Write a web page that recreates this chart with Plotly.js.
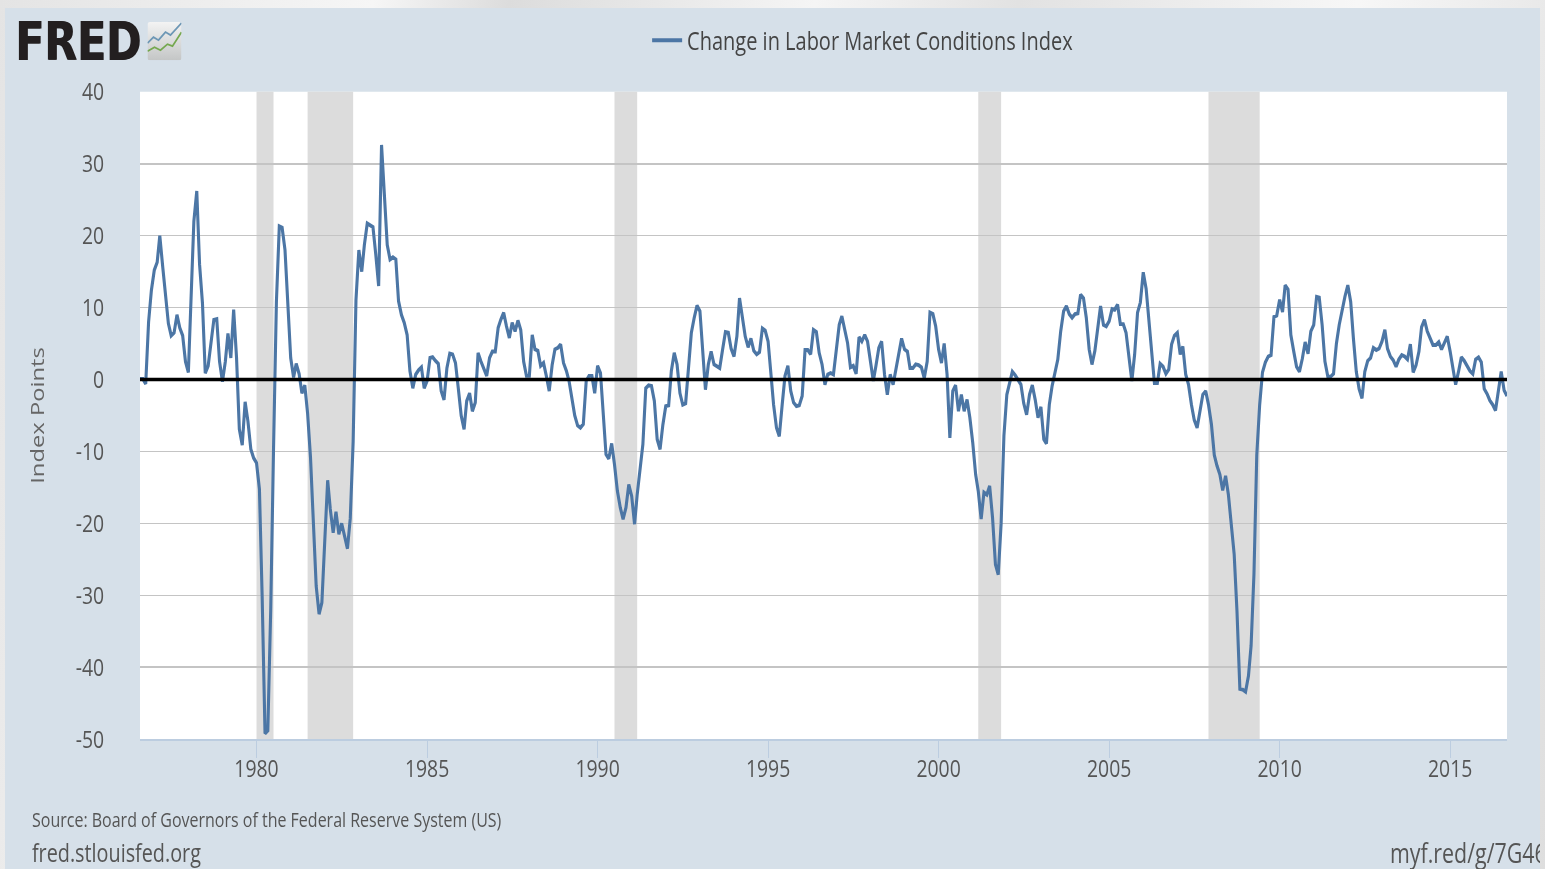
<!DOCTYPE html>
<html>
<head>
<meta charset="utf-8">
<script src="https://cdn.plot.ly/plotly-3.0.1.min.js"></script>
<style>
html,body{margin:0;padding:0;width:1545px;height:869px;overflow:hidden;
background:linear-gradient(100deg,#e4e4e4 0%,#f6f6f6 22%,#dcdcdc 30%,#f5f5f5 48%,#e2e2e2 60%,#f7f7f7 80%,#dedede 100%);}
#chart{position:absolute;left:5px;top:8px;width:1535px;height:688.8px;
transform-origin:0 0;transform:scaleY(1.25);filter:blur(0.45px);}
</style>
</head>
<body>
<div id="chart"></div>
<script>
const seriesName = "Change in Labor Market Conditions Index";
const startYear = 1976, startMonth = 8; // first monthly observation
const values = [
0.1,0.1,-0.6,8,12.4,15.2,16.3,20,15.7,11.3,7.8,6.1,
6.5,9,7.2,6.1,2.5,1,12.4,22,26.2,16,10.6,0.9,
1.9,5.2,8.3,8.4,2.5,-0.3,2.5,6.4,3,9.7,3,-6.9,
-9.1,-3.1,-5.8,-9.7,-10.9,-11.6,-15.2,-30,-49.2,-48.8,-32,-9.7,
10.8,21.3,21.1,18,10.8,3,0.3,2.2,0.8,-1.9,-0.8,-4.7,
-10.8,-20.7,-28.7,-32.6,-31,-22.4,-14,-18,-21.3,-18.4,-21.5,-20,
-21.8,-23.5,-19.3,-8.6,11,18,15,18.7,21.7,21.5,21.2,17.4,
13,32.6,26,18.7,16.7,17,16.7,10.9,9,7.9,6.2,1.2,
-1.2,0.7,1.3,1.7,-1.2,-0.2,3,3.1,2.6,2.2,-1.6,-2.8,
1.6,3.6,3.5,2.3,-1.2,-5,-6.9,-3,-1.9,-4.4,-3.2,3.7,
2.5,1.4,0.5,3,3.9,3.9,7.2,8.3,9.3,7.4,5.8,7.9,
6.7,8.2,6.9,2.5,0.5,0.5,6.2,4.2,4,1.9,2.3,0.5,
-1.6,2,4.2,4.4,4.9,2.3,1.2,-0.2,-2.5,-5,-6.4,-6.7,
-6.2,-0.2,0.5,0.5,-1.9,1.9,0.9,-5.3,-10.4,-11,-8.9,-11.8,
-15.5,-17.8,-19.4,-17.8,-14.6,-16.2,-20.1,-16,-12.7,-9,-1.2,-0.8,
-0.9,-3,-8.3,-9.7,-6.3,-3.7,-3.6,1.2,3.7,2.1,-1.9,-3.5,
-3.3,1.2,6.5,8.6,10.3,9.5,3,-1.4,2.1,3.9,2.1,1.8,
1.6,4.2,6.6,6.5,4.3,3.2,6,11.3,8.8,6,4.5,5.7,
4,3.5,3.8,7.1,6.8,5.3,0.7,-3.5,-6.7,-7.9,-3.5,0.5,
1.9,-1.6,-3.2,-3.7,-3.6,-2.3,4.1,4.1,3.5,6.9,6.6,3.7,
2.1,-0.7,0.7,0.9,0.7,4.4,7.6,8.8,6.9,5.1,1.7,1.9,
0.8,5.9,5.3,6.2,5.3,2.8,-0.2,1.9,4.4,5.3,0.7,-2.1,
0.7,-0.7,1.6,3.5,5.7,4.2,3.9,1.6,1.6,2.1,2,1.7,
0.2,2.5,9.3,9.1,7.4,4.2,2.3,5,0.7,-8.1,-1.6,-0.8,
-4.4,-2.1,-4.4,-2.8,-5.3,-8.8,-13.2,-15.5,-19.4,-15.7,-16,-14.8,
-19.2,-25.7,-27.1,-20,-7.8,-2.1,-0.5,1.1,0.6,0,-0.7,-3.3,
-4.9,-2.1,-0.8,-2.8,-5.3,-3.8,-8.3,-8.9,-3.5,-0.9,1.2,2.8,
6.7,9.5,10.2,9.1,8.6,9.1,9.2,11.8,11.3,8.6,4.2,2.1,
4,7,10.2,7.6,7.4,8.1,9.8,9.7,10.4,7.7,7.7,6.5,
3.5,-0.2,3.5,9.3,10.7,14.9,12.6,8.1,3.9,-0.5,-0.5,2.2,
1.8,0.8,1.4,4.9,6.1,6.5,3.5,4.6,0.7,-0.7,-3.5,-5.6,
-6.7,-4.4,-2.1,-1.6,-3.5,-6.2,-10.5,-12,-13.2,-15.4,-13.4,-16,
-19.7,-24.3,-32.2,-43,-43.1,-43.4,-41.2,-37,-27,-10.5,-3.5,1,
2.4,3.2,3.4,8.7,8.9,11.1,9.4,13.1,12.5,6.2,3.9,1.8,
1.1,2.9,5.2,3.6,6.7,7.6,11.5,11.4,7.6,2.5,0.4,0.4,
0.8,5,7.6,9.7,11.5,13.1,10.8,5.7,1.1,-1.3,-2.6,1.1,
2.6,3,4.4,4.1,4.3,5.3,6.9,4.3,3.2,2.7,1.8,2.8,
3.4,3.2,2.8,4.9,1,2,3.9,7.3,8.3,6.7,5.7,4.8,
4.8,5.2,4.2,5.2,6,3.9,1.5,-0.7,1.1,3.1,2.6,2,
1.2,0.8,2.8,3.1,2.4,-1.3,-2,-2.9,-3.5,-4.3,-1.5,1.1,
-1.5,-2.3
];
const recessionStarts = ["1980-01-01","1981-07-01","1990-07-01","2001-03-01","2007-12-01"];
const recessionEnds   = ["1980-07-01","1982-11-01","1991-03-01","2001-11-01","2009-06-01"];
const yTicks = [-50,-40,-30,-20,-10,0,10,20,30,40];
const sourceText = "Source: Board of Governors of the Federal Reserve System (US)";
const siteText = "fred.stlouisfed.org";
const linkText = "myf.red/g/7G46";

const dates = values.map((_, i) => {
  const m = startMonth - 1 + i;
  const y = startYear + Math.floor(m / 12);
  return y + "-" + String(m % 12 + 1).padStart(2, "0") + "-01";
});

// layout geometry (CSS-unscaled pixels)
const W = 1535, H = 688.8, ml = 134.5, mr = 32.5, mt = 67.2, mb = 104;
const px = x => (x - ml) / (W - ml - mr);
const py = y => 1 - (y - mt) / (H - mt - mb);

const iconSvg = '<svg xmlns="http://www.w3.org/2000/svg" width="68" height="76" viewBox="0 0 68 76">' +
 '<defs><linearGradient id="g" x1="0" y1="0" x2="0" y2="1"><stop offset="0" stop-color="#f3f3f3"/><stop offset="1" stop-color="#c4c6c6"/></linearGradient></defs>' +
 '<rect width="68" height="76" rx="5" fill="url(#g)"/>' +
 '<path d="M0 42 L12 30 L22 36 L36 20 L46 26 L68 2" fill="none" stroke="#6d97b5" stroke-width="3.5"/>' +
 '<path d="M0 58 L14 50 L26 56 L40 44 L50 48 L68 20" fill="none" stroke="#75a84f" stroke-width="3.5"/></svg>';

const shapes = recessionStarts.map((s, i) => ({
  type: "rect", xref: "x", yref: "paper", x0: s, x1: recessionEnds[i], y0: 0, y1: 1,
  fillcolor: "#dcdcdc", line: {width: 0}, layer: "below"
}));
shapes.push({type: "line", xref: "paper", yref: "y", x0: 0, x1: 1, y0: 0, y1: 0,
  line: {color: "#000", width: 2.7}, layer: "above"});

const tickFont = {family: "Open Sans", size: 19.4, color: "#555"};

Plotly.newPlot("chart", [{
  type: "scatter", mode: "lines", x: dates, y: values, name: seriesName,
  line: {color: "#4c76a5", width: 3.1}, showlegend: true, hoverinfo: "x+y"
}], {
  width: W, height: H, autosize: false,
  margin: {l: ml, r: mr, t: mt, b: mb, pad: 0, autoexpand: false},
  paper_bgcolor: "#d6e0e9", plot_bgcolor: "#ffffff",
  font: {family: "Open Sans", color: "#555"},
  showlegend: true,
  legend: {orientation: "h", x: px(642), y: py(26), xanchor: "left", yanchor: "middle",
    bgcolor: "rgba(0,0,0,0)", font: {family: "Open Sans", size: 20, color: "#444"}},
  xaxis: {type: "date", range: [dates[0], dates[dates.length - 1]],
    tick0: "1980-01-01", dtick: "M60", tickformat: "%Y", ticks: "outside", ticklen: 14,
    ticklabelstandoff: -8,
    tickcolor: "#bccde0", tickwidth: 1, showgrid: false, showline: true,
    linecolor: "#bccde0", linewidth: 1, tickfont: tickFont, zeroline: false},
  yaxis: {range: [-50, 40], tickmode: "array", tickvals: yTicks, ticktext: yTicks.map(String),
    ticks: "outside", ticklen: 31, tickcolor: "rgba(0,0,0,0)", tickwidth: 1,
    gridcolor: "#c4c4c4", gridwidth: 1.3, showline: false, zeroline: false, tickfont: tickFont,
    title: {text: "Index Points", standoff: 26, font: {family: "Open Sans", size: 19, color: "#666"}}},
  shapes: shapes,
  images: [{source: "data:image/svg+xml;base64," + btoa(iconSvg), xref: "paper", yref: "paper",
    x: px(142), y: py(11.5), sizex: (34) / (W - ml - mr), sizey: (30.5) / (H - mt - mb),
    sizing: "stretch", xanchor: "left", yanchor: "top", layer: "above"}],
  annotations: [
    {text: "<b>FRED</b>", xref: "paper", yref: "paper", x: px(7), y: py(27.6), xanchor: "left", yanchor: "middle",
      showarrow: false, font: {family: "DejaVu Sans", size: 42.5, color: "#231f20", shadow: "1px 0 0 #231f20"}},
    {text: sourceText, xref: "paper", yref: "paper", x: px(24), y: py(649), xanchor: "left", yanchor: "middle",
      showarrow: false, font: {family: "Open Sans", size: 16, color: "#555"}},
    {text: siteText, xref: "paper", yref: "paper", x: px(24), y: py(675.5), xanchor: "left", yanchor: "middle",
      showarrow: false, font: {family: "Open Sans", size: 19.8, color: "#555"}},
    {text: linkText, xref: "paper", yref: "paper", x: px(1383), y: py(675), xanchor: "left", yanchor: "middle",
      showarrow: false, font: {family: "Open Sans", size: 21.4, color: "#555"}}
  ]
}, {displayModeBar: false, staticPlot: true});
</script>
</body>
</html>
